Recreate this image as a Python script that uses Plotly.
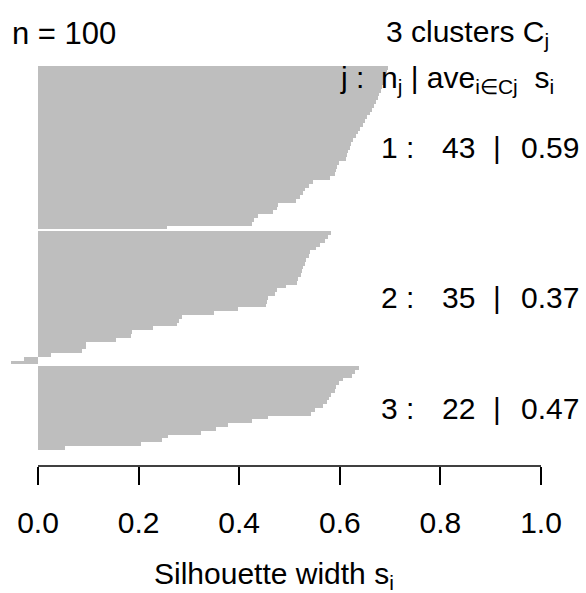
import plotly.graph_objects as go

# Silhouette widths per cluster (sorted decreasing within cluster)
cluster1 = [0.695, 0.693, 0.692, 0.690, 0.687, 0.684, 0.681, 0.678, 0.676, 0.672,
            0.668, 0.664, 0.660, 0.655, 0.651, 0.646, 0.641, 0.637, 0.632, 0.627,
            0.623, 0.621, 0.616, 0.614, 0.612, 0.598, 0.595, 0.592, 0.590, 0.581,
            0.547, 0.539, 0.531, 0.527, 0.521, 0.513, 0.478, 0.475, 0.468, 0.438,
            0.429, 0.425, 0.256]
cluster2 = [0.582, 0.577, 0.570, 0.561, 0.552, 0.541, 0.538, 0.532, 0.531, 0.527,
            0.524, 0.522, 0.516, 0.514, 0.494, 0.475, 0.472, 0.458, 0.455, 0.453,
            0.398, 0.349, 0.286, 0.280, 0.276, 0.229, 0.186, 0.184, 0.156, 0.095,
            0.095, 0.087, 0.025, -0.028, -0.054]
cluster3 = [0.638, 0.630, 0.625, 0.607, 0.599, 0.592, 0.590, 0.583, 0.579, 0.574,
            0.567, 0.551, 0.543, 0.457, 0.425, 0.377, 0.353, 0.325, 0.258, 0.246,
            0.205, 0.054]
clusters = [cluster1, cluster2, cluster3]
cluster_ids = ["1", "2", "3"]
cluster_avg = ["0.59", "0.37", "0.47"]
tick_vals = [0.0, 0.2, 0.4, 0.6, 0.8, 1.0]
tick_text = ["0.0", "0.2", "0.4", "0.6", "0.8", "1.0"]

W, H = 586, 593
ML, MR, MT, MB = 0, 27, 50, 127
PW = W - ML - MR
PH = H - MT - MB
FONT = "Liberation Sans, Arial, Helvetica, sans-serif"
FS = 30
GRAY = "#BEBEBE"

# bar positions: width 1, gap 0.5 between clusters
ys, xs = [], []
centers = []
pos = 0.0
for ci, vals in enumerate(clusters):
    start = pos
    for v in vals:
        ys.append(pos + 0.5)
        xs.append(v)
        pos += 1
    centers.append((start + pos) / 2)
    pos += 0.5

px_per_unit = 3.80
top_px = 66
y_top = -(top_px - MT) / px_per_unit
y_bot = y_top + PH / px_per_unit

x0px = 38
xscale = 503.0
x_lo = -(x0px - ML) / xscale
x_hi = (PW - (x0px - ML)) / xscale

fig = go.Figure()
fig.add_trace(go.Bar(x=xs, y=ys, orientation="h", width=1.0,
                     marker=dict(color=GRAY, line=dict(width=0)),
                     hoverinfo="skip", showlegend=False))

def px2paper_x(px):
    return (px - ML) / PW

def px2paper_y(py):
    return (H - MB - py) / PH

annotations = []
def add_text(txt, px, py, xanchor="left", size=FS):
    annotations.append(dict(text=txt, x=px2paper_x(px), y=px2paper_y(py), xref="paper", yref="paper",
                            xanchor=xanchor, yanchor="middle", showarrow=False,
                            font=dict(family=FONT, size=size, color="black")))

add_text("n = 100", 10, 33, "left", 31)
add_text("3 clusters C<sub>j</sub>", 551, 33, "right")
add_text("j :  n<sub>j</sub> | ave<sub>i\u2208Cj</sub>  s<sub>i</sub>", 556, 80, "right")

for cid, n, avg, c in zip(cluster_ids, [len(v) for v in clusters], cluster_avg, centers):
    cy = top_px + c * px_per_unit
    add_text(cid + " :", 379, cy, "left")
    add_text(str(n), 458, cy, "center")
    add_text("|", 497, cy, "center")
    add_text(avg, 519, cy, "left")

add_text("Silhouette width s<sub>i</sub>", 274, 575, "center")

fig.update_layout(
    width=W, height=H,
    margin=dict(l=ML, r=MR, t=MT, b=MB, pad=0),
    paper_bgcolor="white", plot_bgcolor="white",
    bargap=0,
    annotations=annotations,
    xaxis=dict(range=[x_lo, x_hi], showgrid=False, zeroline=False, showline=False,
               tickmode="array", tickvals=tick_vals, ticktext=tick_text,
               ticks="outside", ticklen=18, tickwidth=1.5, tickcolor="black",
               tickfont=dict(family=FONT, size=FS, color="black"),
               ticklabelstandoff=12),
    yaxis=dict(range=[y_bot, y_top], showgrid=False, zeroline=False, showline=False,
               showticklabels=False, ticks=""),
    shapes=[dict(type="line", xref="x", yref="paper", x0=0, x1=1, y0=0, y1=0,
                 line=dict(color="black", width=1.5))],
)

fig.write_html("out.html")
